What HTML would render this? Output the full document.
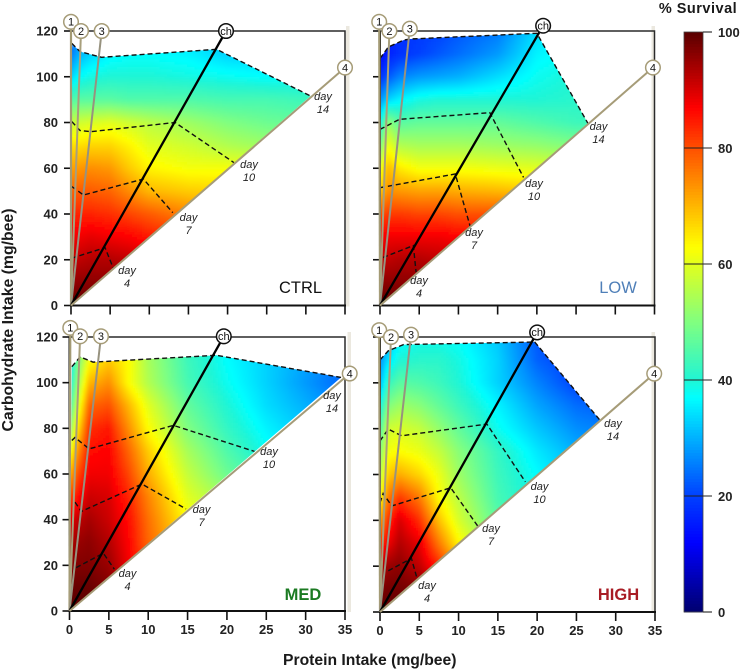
<!DOCTYPE html>
<html lang="en">
<head>
<meta charset="utf-8">
<title>Survival by protein and carbohydrate intake</title>
<style>
html,body{margin:0;padding:0;background:#fff;}
body{width:740px;height:669px;overflow:hidden;font-family:"Liberation Sans",sans-serif;}
svg{display:block;}
text{font-family:"Liberation Sans",sans-serif;}
</style>
</head>
<body>
<svg id="chart" width="740" height="669" viewBox="0 0 740 669" xmlns="http://www.w3.org/2000/svg">
  <defs>
    <filter id="soft" x="-5%" y="-5%" width="110%" height="110%"><feGaussianBlur stdDeviation="1.6"/></filter>
  </defs>
  <text transform="translate(13,320) rotate(-90)" text-anchor="middle" font-size="15.8" font-weight="bold" fill="#1a1a1a">Carbohydrate Intake (mg/bee)</text>
  <text x="283" y="665" text-anchor="start" font-size="15.7" font-weight="bold" fill="#1a1a1a">Protein Intake (mg/bee)</text>
  <text x="698" y="13" text-anchor="middle" font-size="14.5" font-weight="bold" fill="#1a1a1a" letter-spacing="0.5">% Survival</text>
</svg>
<script>
// ---- Data ----
const proteinLevels = [0, 1, 2.5, 5, 7.5, 10, 15, 20, 25, 30, 35];
const carbLevels = [120, 110, 100, 90, 80, 70, 60, 50, 40, 30, 20, 10, 0];
const proteinTicks = [0, 5, 10, 15, 20, 25, 30, 35];
const carbTicks = [0, 20, 40, 60, 80, 100, 120];
const colorbarTicks = [0, 20, 40, 60, 80, 100];
const rayNames = ['1', '2', '3', 'ch', '4'];
const dayNames = ['4', '7', '10', '14'];

const survivalCtrl = [
  [22,26,30,33,34,35,35,30,30,30,30],
  [25,30,33,36,37,37,36,33,33,33,33],
  [33,37,39,40,40,40,39,38,37,37,37],
  [45,46,46,46,45,45,45,44,44,43,43],
  [57,58,59,60,58,56,53,50,48,47,47],
  [66,66,67,67,64,60,58,55,53,52,52],
  [72,73,74,73,68,64,62,62,61,58,58],
  [78,79,79,78,74,70,68,67,66,66,66],
  [84,84,84,83,81,79,75,72,72,72,72],
  [88,88,89,88,87,85,82,82,82,82,82],
  [92,92,93,93,92,90,88,88,88,88,88],
  [95,96,96,96,96,95,93,93,93,93,93],
  [100,100,100,100,100,100,100,100,100,100,100]
];
const survivalLow = [
  [12,16,18,19,20,22,25,34,38,38,38],
  [12,16,18,20,22,24,28,36,38,38,38],
  [18,22,26,28,29,30,34,38,40,40,40],
  [27,33,36,39,40,40,40,40,41,41,41],
  [38,52,46,47,47,47,47,45,43,43,43],
  [48,62,55,54,54,54,53,52,50,50,50],
  [60,70,65,62,62,62,61,60,58,58,58],
  [68,74,73,72,72,71,70,68,66,66,66],
  [80,82,82,81,81,80,80,78,76,76,76],
  [87,88,88,88,88,87,86,84,82,82,82],
  [92,92,93,93,92,92,90,90,90,90,90],
  [96,96,96,96,96,96,95,95,95,95,95],
  [100,100,100,100,100,100,100,100,100,100,100]
];
const survivalMed = [
  [33,45,58,65,60,52,42,36,32,28,24],
  [35,48,62,68,63,54,43,37,33,29,25],
  [37,52,70,74,63,55,44,38,33,28,23],
  [42,58,78,80,70,60,47,40,34,30,26],
  [50,65,83,85,74,63,50,42,36,32,28],
  [60,73,86,87,78,68,54,45,38,34,30],
  [70,80,88,88,81,71,57,48,42,38,34],
  [80,86,91,90,84,75,60,53,50,45,40],
  [88,92,94,91,86,77,63,58,55,50,45],
  [93,95,96,93,87,78,66,62,60,55,50],
  [96,97,97,95,88,80,70,66,62,60,55],
  [99,99,99,97,93,88,80,75,70,65,60],
  [100,100,100,100,100,100,100,100,100,100,100]
];
const survivalHigh = [
  [24,30,36,38,38,37,32,22,18,18,18],
  [27,34,40,41,41,39,33,23,19,19,19],
  [30,42,46,45,43,40,33,26,20,18,18],
  [38,50,53,51,47,43,36,29,24,22,22],
  [44,58,59,57,52,47,38,32,27,25,25],
  [50,62,63,61,57,51,42,35,30,30,30],
  [55,68,71,67,61,53,43,37,32,32,32],
  [62,76,82,76,63,56,44,38,35,35,35],
  [72,83,90,83,69,59,46,40,38,38,38],
  [82,88,93,89,76,64,50,45,42,42,42],
  [92,95,96,92,84,72,60,55,50,50,50],
  [97,98,98,97,93,85,75,70,65,65,65],
  [100,100,100,100,100,100,100,100,100,100,100]
];

// intake curves as [protein, carbohydrate] pairs
const ctrlDay4 = [[0.1,20.7],[4.35,25.3],[5.4,16.3]];
const ctrlDay7 = [[0.1,52],[1.6,48.3],[9.25,55.3],[13,40.6]];
const ctrlDay10 = [[0.1,80.4],[1.15,76.5],[2.6,76],[13.3,80],[20.8,62.5]];
const ctrlDay14 = [[0.1,114.6],[1.15,111],[3.9,108.5],[18.6,112],[30.6,91.6]];
const lowDay4 = [[0.4,21],[4.25,26.2],[4.6,14.6]];
const lowDay7 = [[0,51.5],[9.6,57.5],[11.5,34.5]];
const lowDay10 = [[0,77],[2.5,81.4],[14,84.3],[18.3,56]];
const lowDay14 = [[0,108],[1.06,113],[3,116],[3.8,116.5],[20,119],[26.5,79.7]];
const medDay4 = [[0.85,19],[4.3,25.3],[5.7,18.3]];
const medDay7 = [[0.7,47.7],[1.5,43.6],[9.2,55.6],[14.8,44.7]];
const medDay10 = [[0.3,74.7],[0.7,76],[2.5,71],[13.2,81.3],[23.5,69.9]];
const medDay14 = [[0.3,107],[1.35,111.3],[3,109],[18.7,112],[34.5,102.3]];
const highDay4 = [[1.06,18],[4,23.4],[4.75,14.2]];
const highDay7 = [[0,47.7],[0.4,51.7],[1.5,46.3],[9,54.2],[12.5,37.2]];
const highDay10 = [[0,74.7],[1.06,79.8],[2.75,76.9],[13.6,82],[18.5,56.8]];
const highDay14 = [[0,110],[1.06,114],[3,116.7],[19.7,117.8],[28,83.7]];

// ray end points as [protein, carbohydrate]
const ctrlRays = [[0,124],[1.28,120],[3.92,120],[19.8,120],[35,104]];
const lowRays = [[-0.1,124],[1.2,120],[3.8,121],[20.8,122.3],[34.8,104]];
const medRays = [[0.1,124],[1.35,120.3],[4,120.3],[19.6,120.3],[35.6,104]];
const highRays = [[-0.1,123],[1.4,120],[3.95,121],[20,122],[34.9,104]];

// ---- Colour scale ----
const colorStops = [0, 12, 20, 37, 40, 50, 63, 80, 87, 100];
const colorReds = [0, 0, 0, 0, 32, 128, 255, 255, 255, 90];
const colorGreens = [0, 0, 64, 255, 245, 255, 255, 80, 0, 0];
const colorBlues = [110, 255, 255, 255, 213, 128, 0, 0, 0, 0];

function interp1(xs, ys, x) {
  if (x <= xs[0]) return ys[0];
  for (let i = 1; i < xs.length; i++) {
    if (x <= xs[i]) {
      const t = (x - xs[i - 1]) / (xs[i] - xs[i - 1]);
      return ys[i - 1] + (ys[i] - ys[i - 1]) * t;
    }
  }
  return ys[ys.length - 1];
}
function colorFor(v) {
  const r = Math.round(interp1(colorStops, colorReds, v));
  const g = Math.round(interp1(colorStops, colorGreens, v));
  const b = Math.round(interp1(colorStops, colorBlues, v));
  return 'rgb(' + r + ',' + g + ',' + b + ')';
}
function bracket(levels, value) {
  // levels may be ascending or descending
  const asc = levels[0] < levels[levels.length - 1];
  for (let i = 0; i < levels.length - 1; i++) {
    const a = levels[i], b = levels[i + 1];
    if (asc ? value <= b : value >= b) {
      return [i, Math.max(0, Math.min(1, (value - a) / (b - a)))];
    }
  }
  return [levels.length - 2, 1];
}
function survivalAt(matrix, p, c) {
  const [ci, ct] = bracket(carbLevels, c);
  const [pi, pt] = bracket(proteinLevels, p);
  const a = matrix[ci][pi] * (1 - pt) + matrix[ci][pi + 1] * pt;
  const b = matrix[ci + 1][pi] * (1 - pt) + matrix[ci + 1][pi + 1] * pt;
  return a * (1 - ct) + b * ct;
}
function inside(poly, x, y) {
  let hit = false;
  for (let i = 0, j = poly.length - 1; i < poly.length; j = i++) {
    const [xi, yi] = poly[i], [xj, yj] = poly[j];
    if ((yi > y) !== (yj > y) && x < (xj - xi) * (y - yi) / (yj - yi) + xi) hit = !hit;
  }
  return hit;
}

// ---- Rendering ----
const NS = 'http://www.w3.org/2000/svg';
const root = document.getElementById('chart');
function make(tag, attrs, parent) {
  const el = document.createElementNS(NS, tag);
  for (const k in attrs) el.setAttribute(k, attrs[k]);
  (parent || root).appendChild(el);
  return el;
}

const panels = [
  { key: 'ctrl', label: 'CTRL', labelColor: '#111', labelWeight: 'normal', labelX: 300.5, labelY: 293,
    x0: 71, x1: 345, y0: 305.5, y1: 31, matrix: survivalCtrl, rays: ctrlRays,
    days: [ctrlDay4, ctrlDay7, ctrlDay10, ctrlDay14], shadowX: 347.5,
    dayLabels: [[127,278],[188.5,225],[249,172],[323,104]], leftLabels: true, bottomLabels: false },
  { key: 'low', label: 'LOW', labelColor: '#4f7fb8', labelWeight: 'normal', labelX: 618, labelY: 293,
    x0: 380, x1: 654.5, y0: 305.5, y1: 31, matrix: survivalLow, rays: lowRays,
    days: [lowDay4, lowDay7, lowDay10, lowDay14], shadowX: 653,
    dayLabels: [[419,288],[474,240],[534,191],[598.5,134]], leftLabels: false, bottomLabels: false },
  { key: 'med', label: 'MED', labelColor: '#1b7a22', labelWeight: 'bold', labelX: 303, labelY: 600,
    x0: 69.5, x1: 345, y0: 611, y1: 337, matrix: survivalMed, rays: medRays,
    days: [medDay4, medDay7, medDay10, medDay14], shadowX: 349,
    dayLabels: [[127.5,581],[201.5,517],[269,459],[332,403]], leftLabels: true, bottomLabels: true },
  { key: 'high', label: 'HIGH', labelColor: '#a81c24', labelWeight: 'bold', labelX: 618.5, labelY: 600,
    x0: 380, x1: 655, y0: 612, y1: 337, matrix: survivalHigh, rays: highRays,
    days: [highDay4, highDay7, highDay10, highDay14], shadowX: 653,
    dayLabels: [[427,593],[491,536],[539.5,494],[613,431]], leftLabels: false, bottomLabels: true }
];

const CELL = 2.5;
panels.forEach(function (pn) {
  const sx = function (p) { return pn.x0 + (pn.x1 - pn.x0) * p / 35; };
  const sy = function (c) { return pn.y0 + (pn.y1 - pn.y0) * c / 120; };
  const px = function (pt) { return sx(pt[0]) + ',' + sy(pt[1]); };

  const group = make('g', {});
  
  

  // shadow beside the frame
  const shadow = make('rect', { x: pn.shadowX - 1.5, y: pn.y1 - 5, width: 3.5, height: pn.y0 - pn.y1 + 6, fill: '#ebe8df' }, group);
  
  

  // hull of the heat surface: origin -> along the outer intake curve -> back to origin
  const outer = pn.days[3];
  const hull = [[0, 0]].concat(outer);
  const clipId = 'clip-' + pn.key;
  const clip = make('clipPath', { id: clipId }, group);
  make('polygon', { points: hull.map(px).join(' ') }, clip);

  const clipped = make('g', { 'clip-path': 'url(#' + clipId + ')' }, group);
  
  
  const blurred = make('g', { filter: 'url(#soft)' }, clipped);

  const pxHull = hull.map(function (pt) { return [sx(pt[0]), sy(pt[1])]; });
  const pad = 5;
  for (let y = pn.y1 - 4; y < pn.y0 + 4; y += CELL) {
    for (let x = pn.x0 - 4; x < pn.x1 + 4; x += CELL) {
      const cx = x + CELL / 2, cy = y + CELL / 2;
      if (!(inside(pxHull, cx, cy) || inside(pxHull, cx - pad, cy) || inside(pxHull, cx + pad, cy) ||
            inside(pxHull, cx, cy - pad) || inside(pxHull, cx, cy + pad))) continue;
      const p = Math.max(0, (cx - pn.x0) / (pn.x1 - pn.x0) * 35);
      const c = Math.max(0, (cy - pn.y0) / (pn.y1 - pn.y0) * 120);
      const v = survivalAt(pn.matrix, p, c);
      const cell = make('rect', { x: x, y: y, width: CELL + 0.4, height: CELL + 0.4, fill: colorFor(v) }, blurred);
      
      
    }
  }

  // frame (top + right)
  const frame = make('polyline', { points: sx(0) + ',' + sy(120) + ' ' + sx(35) + ',' + sy(120) + ' ' + sx(35) + ',' + sy(0), fill: 'none', stroke: '#2a2a2a', 'stroke-width': 1.5 }, group);
  
  

  // x axis and ticks
  const xAxis = make('line', { x1: sx(0) - 1, y1: sy(0), x2: sx(35) + 1, y2: sy(0), stroke: '#111', 'stroke-width': 2 }, group);
  
  
  proteinTicks.forEach(function (t) {
    const tick = make('line', { x1: sx(t), y1: sy(0), x2: sx(t), y2: sy(0) + 9, stroke: '#111', 'stroke-width': 1.6 }, group);
    
    
    if (pn.bottomLabels) {
      const lab = make('text', { x: sx(t), y: sy(0) + 23, 'text-anchor': 'middle', 'font-size': 13, 'font-weight': 'bold', fill: '#222' }, group);
      lab.textContent = t;
      
      
    }
  });

  // y axis and ticks
  const yAxis = make('line', { x1: sx(0), y1: sy(0), x2: sx(0), y2: sy(120), stroke: '#111', 'stroke-width': 2 }, group);
  
  
  carbTicks.forEach(function (t) {
    const tick = make('line', { x1: sx(0) - 7, y1: sy(t), x2: sx(0), y2: sy(t), stroke: '#111', 'stroke-width': 1.6 }, group);
    
    
    if (pn.leftLabels) {
      const lab = make('text', { x: 58, y: sy(t) + 4.5, 'text-anchor': 'end', 'font-size': 13, 'font-weight': 'bold', fill: '#222' }, group);
      lab.textContent = t;
      
      
    }
  });

  // dashed day curves
  pn.days.forEach(function (curve, i) {
    const line = make('polyline', { points: curve.map(px).join(' '), fill: 'none', stroke: '#111', 'stroke-width': 1.4, 'stroke-dasharray': '5 3' }, group);
    
    
  });

  // rays
  const rayColors = ['#a39a74', '#a89f7c', '#97927f', '#000', '#a69c78'];
  const rayWidths = [2.2, 2, 2, 2.3, 2];
  pn.rays.forEach(function (end, i) {
    const ray = make('line', { x1: sx(0), y1: sy(0), x2: sx(end[0]), y2: sy(end[1]), stroke: rayColors[i], 'stroke-width': rayWidths[i] }, group);
    
    
  });
  pn.rays.forEach(function (end, i) {
    const isCh = rayNames[i] === 'ch';
    const dot = make('circle', { cx: sx(end[0]), cy: sy(end[1]), r: 7.3, fill: '#fff', stroke: isCh ? '#111' : '#a69c78', 'stroke-width': 1.5 }, group);
    
    
    const lab = make('text', { x: sx(end[0]), y: sy(end[1]) + 3.8, 'text-anchor': 'middle', 'font-size': 11, fill: '#111' }, group);
    lab.textContent = rayNames[i];
    
    
  });

  // day annotations
  pn.dayLabels.forEach(function (pos, i) {
    const t1 = make('text', { x: pos[0], y: pos[1] - 4, 'text-anchor': 'middle', 'font-size': 11, 'font-style': 'italic', fill: '#222' }, group);
    t1.textContent = 'day';
    
    
    const t2 = make('text', { x: pos[0], y: pos[1] + 9, 'text-anchor': 'middle', 'font-size': 11, 'font-style': 'italic', fill: '#222' }, group);
    t2.textContent = dayNames[i];
    
    
  });

  const name = make('text', { x: pn.labelX, y: pn.labelY, 'text-anchor': 'middle', 'font-size': 16.5, 'font-weight': pn.labelWeight, fill: pn.labelColor }, group);
  name.textContent = pn.label;
  
  
});

// ---- Colour bar ----
const barX = 684, barW = 19, barTop = 32, barBottom = 612;
const barY = function (v) { return barBottom + (barTop - barBottom) * v / 100; };
const bar = make('g', {});


for (let v = 0; v < 100; v += 0.5) {
  const seg = make('rect', { x: barX, y: barY(v + 0.5), width: barW, height: barY(v) - barY(v + 0.5) + 0.5, fill: colorFor(v + 0.25) }, bar);
  
  
}
const barBorder = make('rect', { x: barX, y: barTop, width: barW, height: barBottom - barTop, fill: 'none', stroke: '#444', 'stroke-width': 0.8 }, bar);


colorbarTicks.forEach(function (t) {
  const inner = t > 0 && t < 100;
  const tick = make('line', { x1: inner ? barX : barX + barW, y1: barY(t), x2: barX + barW + 9, y2: barY(t), stroke: '#222', 'stroke-width': 1.1 }, bar);
  
  
  const lab = make('text', { x: 718, y: barY(t) + 5, 'font-size': 13, 'font-weight': 'bold', fill: '#222' }, bar);
  lab.textContent = t;
  
  
});
</script>
</body>
</html>
